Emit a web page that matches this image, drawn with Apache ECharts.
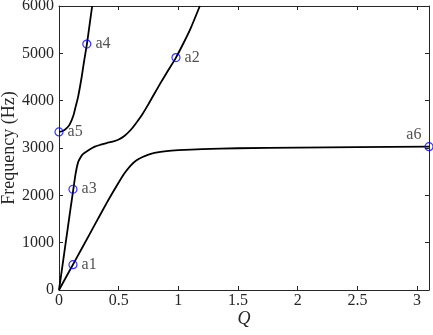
<!DOCTYPE html>
<html>
<head>
<meta charset="utf-8">
<script src="https://cdn.jsdelivr.net/npm/echarts@6/dist/echarts.min.js"></script>
<style>
  html, body { margin: 0; padding: 0; background: #fff; }
  #chart { width: 433px; height: 335px; }
</style>
</head>
<body>
<div id="chart"></div>
<script>
// lower branch
const q1 = [0, 0.1, 0.2, 0.3, 0.4, 0.45, 0.5, 0.55, 0.6, 0.65, 0.7, 0.75, 0.8, 0.9, 1.0, 1.2, 1.5, 2.0, 2.5, 3.1];
const f1 = [0, 460, 920, 1380, 1840, 2060, 2270, 2470, 2630, 2740, 2810, 2860, 2895, 2935, 2955, 2978, 2995, 3008, 3018, 3028];
// middle branch
const q2 = [0, 0.05, 0.1, 0.12, 0.14, 0.16, 0.18, 0.2, 0.25, 0.3, 0.35, 0.4, 0.45, 0.5, 0.55, 0.6, 0.65, 0.7, 0.75, 0.8, 0.85, 0.9, 0.98, 1.05, 1.1, 1.18];
const f2 = [0, 890, 1780, 2128, 2470, 2700, 2800, 2870, 2960, 3030, 3070, 3105, 3135, 3180, 3260, 3380, 3540, 3720, 3930, 4150, 4370, 4580, 4910, 5250, 5510, 6000];
// upper branch
const q3 = [0, 0.03, 0.06, 0.09, 0.12, 0.14, 0.16, 0.19, 0.21, 0.234, 0.255, 0.278];
const f3 = [3340, 3360, 3410, 3500, 3680, 3880, 4080, 4500, 4830, 5200, 5580, 6000];
// marked points
const ptNames = ['a1', 'a2', 'a3', 'a4', 'a5', 'a6'];
const ptQ = [0.117, 0.98, 0.117, 0.233, 0, 3.1];
const ptF = [535, 4910, 2128, 5195, 3340, 3028];

const zip = (xs, ys) => xs.map((x, i) => [x, ys[i]]);

const serif = 'Times New Roman';
const ink = '#262626';

const chart = echarts.init(document.getElementById('chart'));

const branch = (xs, ys) => ({
  type: 'line',
  data: zip(xs, ys),
  smooth: 0.25,
  showSymbol: false,
  lineStyle: { color: '#000', width: 1.8 },
  silent: true,
  z: 2
});

// box frame: ticks inside on all four sides
const boxAxis = () => ({
  axisLine: { show: true, onZero: false, lineStyle: { color: ink, width: 1 } },
  axisTick: { show: true, inside: true, length: 4, lineStyle: { color: ink } },
  splitLine: { show: false }
});

chart.setOption({
  animation: false,
  grid: { left: 59, right: 4, top: 6, bottom: 45, containLabel: false, outerBoundsMode: 'none' },
  xAxis: [
    Object.assign({
      type: 'value', min: 0, max: 3.1, interval: 0.5,
      name: 'Q', nameLocation: 'middle', nameGap: 20, nameMoveOverlap: false,
      nameTextStyle: { fontFamily: serif, fontSize: 18, fontStyle: 'italic', color: ink },
      axisLabel: {
        fontFamily: serif, fontSize: 16, color: ink, margin: 3,
        formatter: v => (Math.abs(v * 2 - Math.round(v * 2)) < 1e-6 ? String(v) : '')
      }
    }, boxAxis()),
    Object.assign({
      type: 'value', min: 0, max: 3.1, interval: 0.5, position: 'top',
      axisLabel: { show: false }
    }, boxAxis())
  ],
  yAxis: [
    Object.assign({
      type: 'value', min: 0, max: 6000, interval: 1000,
      name: 'Frequency (Hz)', nameLocation: 'middle', nameGap: 41, nameMoveOverlap: false,
      nameTextStyle: { fontFamily: serif, fontSize: 18, color: ink },
      axisLabel: { fontFamily: serif, fontSize: 16, color: ink, margin: 5, formatter: v => String(v) }
    }, boxAxis()),
    Object.assign({
      type: 'value', min: 0, max: 6000, interval: 1000, position: 'right',
      axisLabel: { show: false }
    }, boxAxis())
  ],
  series: [
    branch(q1, f1),
    branch(q2, f2),
    branch(q3, f3),
    {
      type: 'scatter',
      clip: false,
      symbol: 'circle',
      symbolSize: 8,
      itemStyle: { color: 'rgba(0,0,0,0)', borderColor: '#0000ff', borderWidth: 1.2 },
      data: ptNames.map((n, i) => ({
        name: n,
        value: [ptQ[i], ptF[i]],
        label: n === 'a6'
          ? { position: 'left', distance: 3, offset: [0, -12] }
          : { position: 'right', distance: 4 }
      })),
      label: {
        show: true,
        formatter: '{b}',
        fontFamily: serif, fontSize: 16, color: ink
      },
      z: 3
    }
  ]
});
</script>
</body>
</html>
